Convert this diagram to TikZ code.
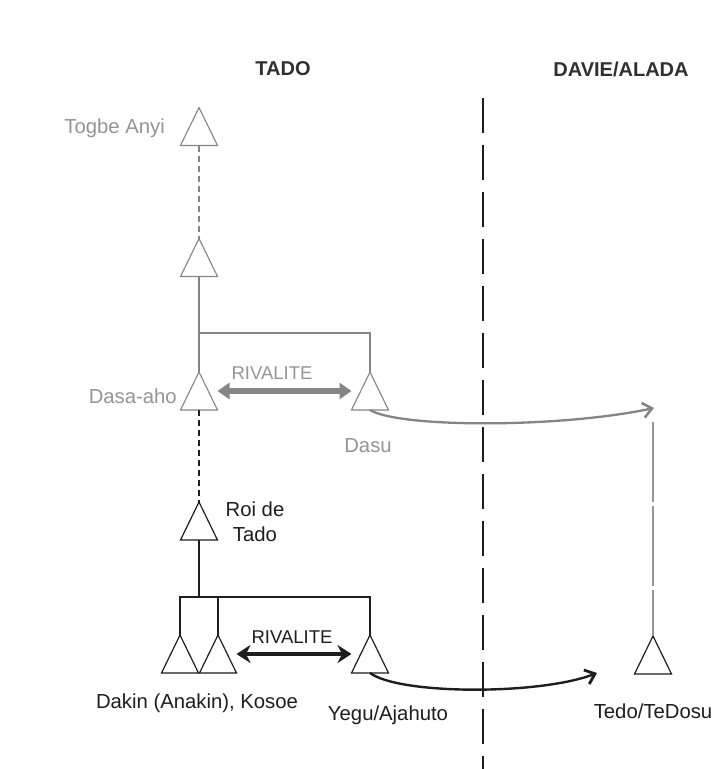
\documentclass[tikz,border=0pt]{standalone}
\usepackage{fontspec}
\setmainfont{Liberation Sans}
\usetikzlibrary{arrows.meta,calc}
\definecolor{lgray}{HTML}{959595}
\definecolor{mgray}{HTML}{858585}
\definecolor{ink}{HTML}{1E1E1E}
\definecolor{titlec}{HTML}{303030}
\begin{document}
\begin{tikzpicture}[x=1pt,y=-1pt,
  tri/.style={minimum width=37pt,minimum height=38pt,inner sep=0pt,outer sep=0pt},
  lbl/.style={inner sep=0pt,font=\fontsize{20.3}{25}\selectfont},
  riv/.style={inner sep=0pt,font=\fontsize{18.5}{22}\selectfont},
  ttl/.style={inner sep=0pt,font=\fontsize{20}{24}\selectfont\bfseries,text=titlec},
  gtri/.style={draw=mgray,line width=1.1pt},
  btri/.style={draw=ink,line width=1.2pt},
  gline/.style={draw=mgray,line width=1.1pt},
  bline/.style={draw=ink,line width=1.3pt}
]
\useasboundingbox (0,0) rectangle (714,769);
\fill[white] (0,0) rectangle (714,769);

% titles
\node[ttl,anchor=base] (tado) at (283,75) {TADO};
\node[ttl,anchor=base] (davie) at (621,76) {DAVIE/ALADA};

% divider
\coordinate (dtop) at (483,98);
\coordinate (dbot) at (483,769);
\draw[ink,line width=1.6pt,dash pattern=on 35pt off 12pt] (dtop) -- (dbot);

% triangles
\node[tri] (togbe) at (199,126.5) {};
\node[tri] (t2) at (199,257.5) {};
\node[tri] (dasaaho) at (199,391) {};
\node[tri] (dasu) at (370,391) {};
\node[tri] (roi) at (199,521) {};
\node[tri] (dakin) at (180,654) {};
\node[tri] (kosoe) at (218,654) {};
\node[tri] (yegu) at (370,654) {};
\node[tri] (tedo) at (653,655) {};

\foreach \n in {togbe,t2,dasaaho,dasu}
  \draw[gtri] (\n.north) -- (\n.south east) -- (\n.south west) -- cycle;
\foreach \n in {roi,dakin,kosoe,yegu,tedo}
  \draw[btri] (\n.north) -- (\n.south east) -- (\n.south west) -- cycle;

% labels
\node[lbl,text=lgray,anchor=base east] (ltogbe) at (165,133) {Togbe Anyi};
\node[lbl,text=lgray,anchor=base east] (ldasaaho) at (177,403) {Dasa-aho};
\node[lbl,text=lgray,anchor=base] (ldasu) at (368,452) {Dasu};
\node[riv,text=lgray,anchor=base] (riv1) at (272,379) {RIVALITE};
\node[lbl,text=ink,anchor=north,align=center] (lroi) at (255,502) {Roi de\\Tado};
\node[riv,text=ink,anchor=base] (riv2) at (292,643) {RIVALITE};
\node[lbl,text=ink,anchor=base] (ldakin) at (197,708) {Dakin (Anakin), Kosoe};
\node[lbl,text=ink,anchor=base] (lyegu) at (388,720) {Yegu/Ajahuto};
\node[lbl,text=ink,anchor=base] (ltedo) at (653,718) {Tedo/TeDosu};

% upper lineage (grey)
\draw[gline,dash pattern=on 6pt off 4pt] (togbe.south) -- (t2.north);
\coordinate (j1) at (199,333);
\draw[gline] (t2.south) -- (dasaaho.north);
\draw[gline] (j1) -| (dasu.north);

% lower lineage (black)
\draw[bline,dash pattern=on 6pt off 4pt] (dasaaho.south) -- (roi.north);
\coordinate (j2) at (199,597);
\draw[bline] (roi.south) -- (j2);
\draw[bline] (dakin.north) |- (yegu.north |- j2) -- (yegu.north);
\draw[bline] (kosoe.north) -- (kosoe.north |- j2);

% rivalry arrows
\draw[mgray,line width=5.5pt,{Triangle[length=12pt,width=16pt]}-{Triangle[length=12pt,width=16pt]}]
  (dasaaho.east) -- (dasu.west);
\draw[ink,line width=4pt,{Stealth[length=14pt,width=18pt]}-{Stealth[length=14pt,width=18pt]}]
  (kosoe.east) -- (yegu.west);

% migration arrows
\coordinate (dest1) at (654,408);
\coordinate (tedotop) at (653,422);
\draw[lgray,line width=1.1pt,dash pattern=on 80pt off 4pt] (tedotop) -- (tedo.north);
\draw[mgray,line width=2.3pt,-{Straight Barb[length=9pt,width=15pt,line width=2.6pt]}]
  (dasu.south) .. controls (400,428) and (560,428) .. (dest1);
\coordinate (dest2) at (597,673);
\draw[ink,line width=2.4pt,-{Straight Barb[length=9pt,width=15pt,line width=2.8pt]}]
  (yegu.south) .. controls (400,695) and (540,695) .. (dest2);
\end{tikzpicture}
\end{document}
